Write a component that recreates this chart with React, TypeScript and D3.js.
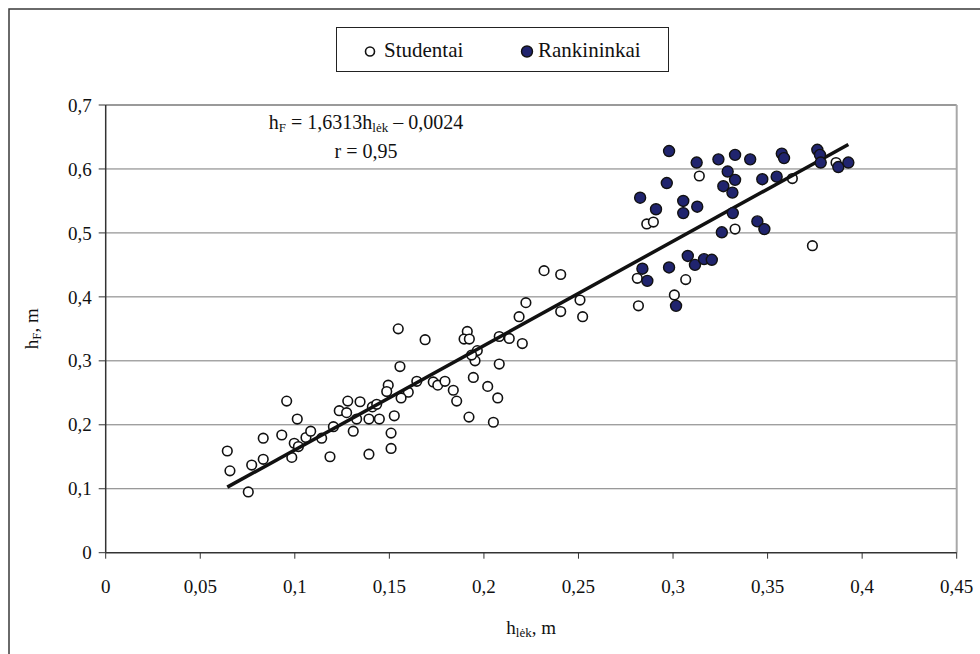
import React from 'react';
import * as d3 from 'd3';

// Studentai (open circles)
const studentaiX = [
  0.0643, 0.0657, 0.0754, 0.0772, 0.0833, 0.0833, 0.0957, 0.0931, 0.1013, 0.0984,
  0.0997, 0.1019, 0.1059, 0.1084, 0.1142, 0.1186, 0.1204, 0.1235, 0.128, 0.1274,
  0.1309, 0.1345, 0.1327, 0.1392, 0.1392, 0.141, 0.1433, 0.1447, 0.2318, 0.2406,
  0.2222, 0.2406, 0.2186, 0.1547, 0.1689, 0.1912, 0.1895, 0.1923, 0.2081, 0.2134,
  0.2203, 0.1965, 0.1953, 0.1935, 0.1556, 0.2081, 0.1944, 0.1645, 0.1732, 0.1756,
  0.1794, 0.1494, 0.1486, 0.16, 0.1562, 0.1838, 0.1856, 0.202, 0.2073, 0.1526,
  0.1509, 0.1509, 0.1921, 0.205, 0.3139, 0.2861, 0.2896, 0.3328, 0.2811, 0.3067,
  0.3007, 0.2817, 0.2508, 0.2522, 0.3631, 0.3862, 0.3737,
];
const studentaiY = [
  0.159, 0.128, 0.095, 0.137, 0.179, 0.146, 0.237, 0.184, 0.209, 0.149,
  0.171, 0.166, 0.18, 0.19, 0.179, 0.15, 0.197, 0.222, 0.237, 0.219,
  0.19, 0.236, 0.209, 0.209, 0.154, 0.228, 0.232, 0.209, 0.441, 0.435,
  0.391, 0.377, 0.369, 0.35, 0.333, 0.346, 0.334, 0.334, 0.338, 0.335,
  0.327, 0.316, 0.3, 0.309, 0.291, 0.295, 0.274, 0.268, 0.267, 0.262,
  0.268, 0.262, 0.252, 0.251, 0.242, 0.254, 0.237, 0.26, 0.242, 0.214,
  0.187, 0.163, 0.212, 0.204, 0.589, 0.514, 0.517, 0.506, 0.429, 0.427,
  0.403, 0.386, 0.395, 0.369, 0.585, 0.61, 0.48,
];

// Rankininkai (filled circles)
const rankininkaiX = [
  0.2979, 0.3125, 0.324, 0.3328, 0.3408, 0.3575, 0.3587, 0.3289, 0.3328, 0.3266,
  0.3314, 0.3472, 0.3548, 0.2967, 0.2826, 0.3054, 0.291, 0.3128, 0.3054, 0.3316,
  0.3258, 0.3446, 0.3483, 0.3078, 0.3116, 0.3164, 0.3205, 0.2838, 0.2864, 0.2979,
  0.3016, 0.3763, 0.3777, 0.3781, 0.3874, 0.3927,
];
const rankininkaiY = [
  0.628, 0.61, 0.615, 0.622, 0.615, 0.624, 0.617, 0.596, 0.583, 0.573,
  0.563, 0.584, 0.588, 0.578, 0.555, 0.55, 0.537, 0.541, 0.531, 0.531,
  0.501, 0.518, 0.506, 0.464, 0.45, 0.459, 0.458, 0.444, 0.425, 0.446,
  0.386, 0.63, 0.622, 0.61, 0.603, 0.61,
];

const xTicks = [0, 0.05, 0.1, 0.15, 0.2, 0.25, 0.3, 0.35, 0.4, 0.45];
const yTicks = [0, 0.1, 0.2, 0.3, 0.4, 0.5, 0.6, 0.7];
const slope = 1.6313;
const intercept = -0.0024;

const width = 980;
const height = 654;
const margin = { top: 105, right: 23.3, bottom: 101.3, left: 105.7 };
const font = "'Liberation Serif', 'Times New Roman', Times, serif";
const navy = '#20246e';

const locale = d3.formatLocale({ decimal: ',', thousands: ' ', grouping: [3], currency: ['', ''] });
const fmt = locale.format('');

const App = () => {
  const x = d3.scaleLinear().domain([0, 0.45]).range([margin.left, width - margin.right]);
  const y = d3.scaleLinear().domain([0, 0.7]).range([height - margin.bottom, margin.top]);

  const allX = studentaiX.concat(rankininkaiX);
  const xMin = d3.min(allX) as number;
  const xMax = d3.max(allX) as number;
  const trend = d3
    .line<number>()
    .x(d => x(d))
    .y(d => y(slope * d + intercept))([xMin, xMax]);

  const x0 = x(0);
  const x1 = x(0.45);
  const yb = y(0);
  const yt = y(0.7);

  return (
    <svg
      width={width}
      height={height}
      style={{ position: 'absolute', left: 0, top: 0, display: 'block', background: '#fff', fontFamily: font }}
    >
      {/* chart area frame */}
      <rect x={9} y={9} width={990} height={680} fill="none" stroke="#3a3a3a" strokeWidth={1.5} />

      {/* gridlines */}
      {yTicks.slice(1, -1).map(t => (
        <line key={t} x1={x0} x2={x1} y1={y(t)} y2={y(t)} stroke="#7a7a7a" strokeWidth={1} />
      ))}
      <line x1={x0} x2={x1} y1={yt} y2={yt} stroke="#9a9a9a" strokeWidth={2} />
      <line x1={x1} x2={x1} y1={yt} y2={yb} stroke="#a8a8a8" strokeWidth={2} />

      {/* axes */}
      <line x1={x0} x2={x0} y1={yt} y2={yb} stroke="#333" strokeWidth={1.5} />
      <line x1={x0} x2={x1} y1={yb} y2={yb} stroke="#333" strokeWidth={1.5} />
      {yTicks.map(t => (
        <g key={t}>
          <line x1={x0 - 7} x2={x0} y1={y(t)} y2={y(t)} stroke="#333" strokeWidth={1} />
          <text x={x0 - 14} y={y(t)} dy="0.35em" textAnchor="end" fontSize={19} fill="#111">
            {fmt(t)}
          </text>
        </g>
      ))}
      {xTicks.map(t => (
        <g key={t}>
          <line x1={x(t)} x2={x(t)} y1={yb} y2={yb + 6} stroke="#333" strokeWidth={1} />
          <text x={x(t)} y={yb + 40} textAnchor="middle" fontSize={19} fill="#111">
            {fmt(t)}
          </text>
        </g>
      ))}

      {/* axis titles */}
      <text x={(x0 + x1) / 2} y={634} textAnchor="middle" fontSize={19} fill="#111">
        h<tspan fontSize={13} dy={3}>lėk</tspan>
        <tspan dy={-3}>, m</tspan>
      </text>
      <text
        transform={`translate(38,${(yt + yb) / 2}) rotate(-90)`}
        textAnchor="middle"
        fontSize={19}
        fill="#111"
      >
        h<tspan fontSize={13} dy={3}>F</tspan>
        <tspan dy={-3}>, m</tspan>
      </text>

      {/* points */}
      {studentaiX.map((d, i) => (
        <circle key={'s' + i} cx={x(d)} cy={y(studentaiY[i])} r={4.8} fill="#fff" stroke="#111" strokeWidth={1.6} />
      ))}
      <path d={trend || ''} stroke="#111" strokeWidth={3.5} fill="none" />
      {rankininkaiX.map((d, i) => (
        <circle key={'r' + i} cx={x(d)} cy={y(rankininkaiY[i])} r={5.5} fill={navy} stroke="#111" strokeWidth={1.4} />
      ))}

      {/* equation */}
      <text x={366} y={129} textAnchor="middle" fontSize={20} fill="#111">
        h<tspan fontSize={13} dy={3}>F</tspan>
        <tspan dy={-3}> = 1,6313h</tspan>
        <tspan fontSize={13} dy={3}>lėk</tspan>
        <tspan dy={-3}> – 0,0024</tspan>
      </text>
      <text x={366} y={158} textAnchor="middle" fontSize={20} fill="#111">
        r = 0,95
      </text>

      {/* legend */}
      <rect x={336.5} y={27.5} width={332} height={44} fill="#fff" stroke="#222" strokeWidth={1} />
      <circle cx={370} cy={51.5} r={4.5} fill="#fff" stroke="#111" strokeWidth={1.6} />
      <text x={384} y={57} fontSize={21} fill="#111">Studentai</text>
      <circle cx={527} cy={51.5} r={5.5} fill={navy} stroke="#111" strokeWidth={1.4} />
      <text x={538} y={57} fontSize={21} fill="#111">Rankininkai</text>
    </svg>
  );
};

export default App;
